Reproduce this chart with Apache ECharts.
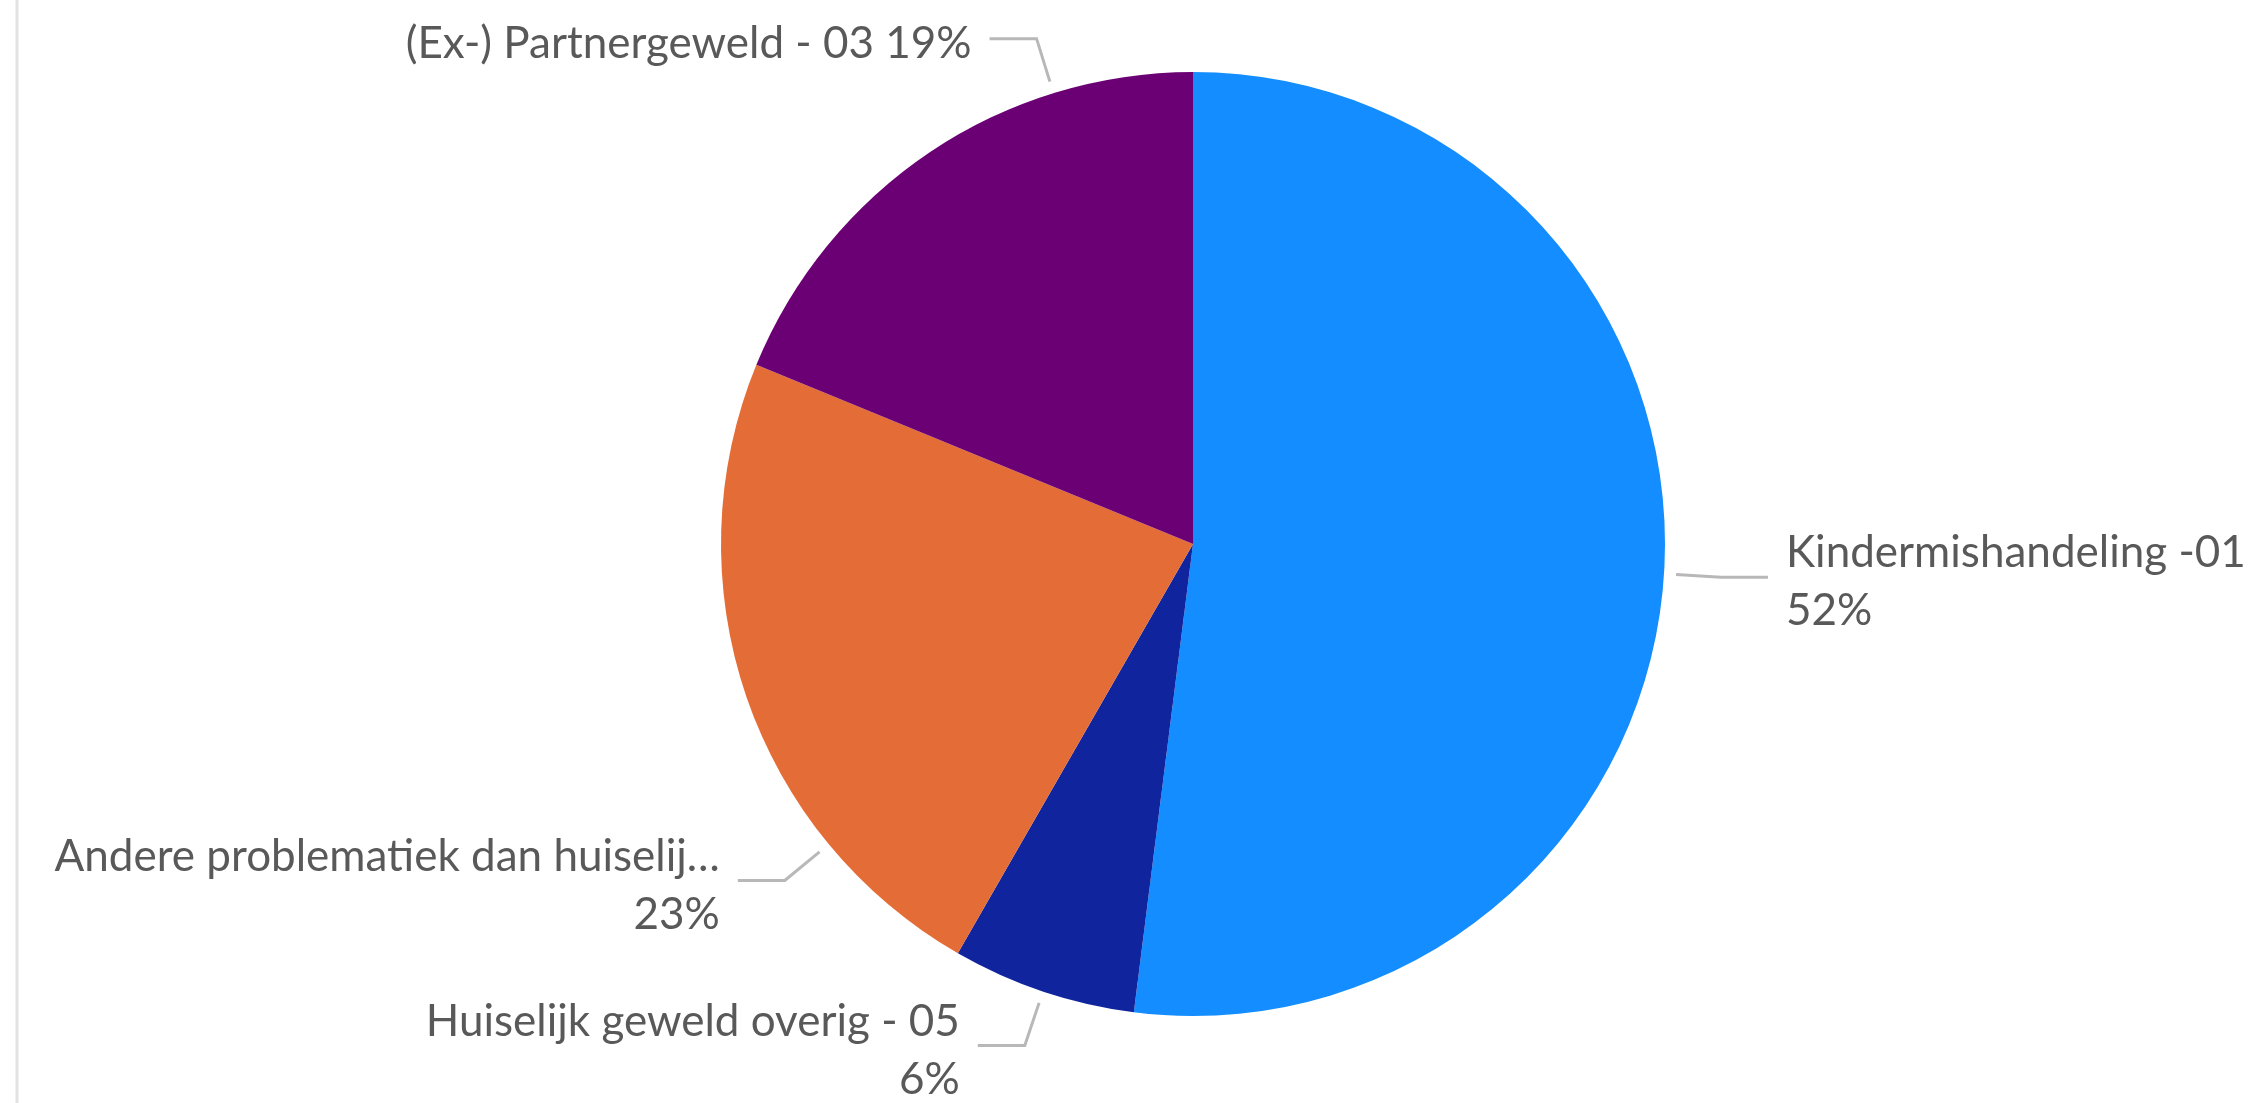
<!DOCTYPE html>
<html>
<head>
<meta charset="utf-8">
<script src="https://cdn.jsdelivr.net/npm/echarts@6/dist/echarts.min.js"></script>
<style>
  html, body { margin: 0; padding: 0; background: #fff; }
  #chart { width: 2257px; height: 1103px; }
</style>
</head>
<body>
<div id="chart"></div>
<script>
// categorieen en aandelen (%), met de klok mee vanaf 12 uur
var categories = [
    'Kindermishandeling -01',
    'Huiselijk geweld overig - 05',
    'Andere problematiek dan huiselij…',
    '(Ex-) Partnergeweld - 03'
];
var values = [52.0, 6.3, 22.9, 18.8];
var colors = ['#138dff', '#10249e', '#e46c37', '#6b0075'];

// layout van de pie en de labels
var CX = 1193, CY = 544, R = 472;
var OFF0 = 12, LEN1 = 57, LEN2 = 47, GAP = 18;
// hoek (graden vanaf 12 uur, met de klok mee) van de labellijn; null = midden van het stuk
var leaderAngle = [null, null, 230.5, 342.8];

var chart = echarts.init(document.getElementById('chart'));

var total = values.reduce(function (a, b) { return a + b; }, 0);
var midAngles = [];
var acc = 0;
values.forEach(function (v) {
    midAngles.push((acc + v / 2) / total * 360);
    acc += v;
});

var pieData = categories.map(function (name, i) {
    return {
        name: name,
        value: values[i],
        itemStyle: { color: colors[i] }
    };
});
// partnergeweld label op een regel
pieData[3].label = { formatter: '{b} {d}%' };

chart.setOption({
    backgroundColor: '#ffffff',
    animation: false,
    graphic: [
        {
            type: 'line',
            shape: { x1: 17, y1: 0, x2: 17, y2: 1103 },
            style: { stroke: '#e3e3e3', lineWidth: 3 }
        }
    ],
    series: [
        {
            type: 'pie',
            center: [CX, CY],
            radius: R,
            startAngle: 90,
            clockwise: true,
            percentPrecision: 0,
            avoidLabelOverlap: false,
            data: pieData,
            label: {
                show: true,
                position: 'outside',
                formatter: '{b}\n{d}%',
                color: '#595959',
                fontFamily: 'Lato',
                fontSize: 44,
                lineHeight: 58
            },
            labelLine: {
                show: true,
                length: LEN1,
                length2: LEN2,
                lineStyle: { color: '#b8b8b8', width: 3 }
            },
            labelLayout: function (params) {
                var i = params.dataIndex;
                var a = (leaderAngle[i] != null ? leaderAngle[i] : midAngles[i]) * Math.PI / 180;
                var sx = Math.sin(a), sy = -Math.cos(a);
                var p0 = [CX + (R + OFF0) * sx, CY + (R + OFF0) * sy];
                var p1 = [CX + (R + LEN1) * sx, CY + (R + LEN1) * sy];
                var dir = sx >= 0 ? 1 : -1;
                var p2 = [p1[0] + dir * LEN2, p1[1]];
                return {
                    x: p2[0] + dir * GAP,
                    y: p1[1] + 5,
                    align: dir > 0 ? 'left' : 'right',
                    verticalAlign: 'middle',
                    labelLinePoints: [p0, p1, p2]
                };
            }
        }
    ]
});
</script>
</body>
</html>
